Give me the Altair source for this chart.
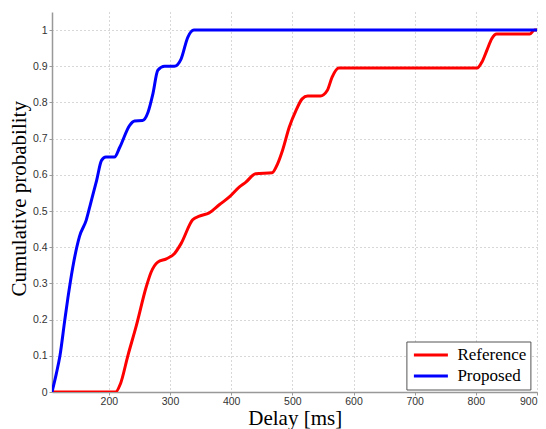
import altair as alt
import pandas as pd

# Reference (red) CDF points
ref_ms = [107, 211, 219, 231, 245, 261, 269, 280, 294, 307, 318, 337, 348, 364, 381,
          397, 413, 424, 440, 467, 476, 484, 495, 506, 516, 525, 546, 557, 565, 576,
          802, 810, 818, 826, 834, 888, 896, 900]
ref_p = [0, 0, 0.023, 0.10, 0.184, 0.29, 0.331, 0.359, 0.368, 0.382, 0.41, 0.476, 0.486,
         0.495, 0.518, 0.539, 0.566, 0.58, 0.603, 0.606, 0.631, 0.668, 0.732, 0.778, 0.81,
         0.818, 0.818, 0.833, 0.87, 0.895, 0.895, 0.912, 0.944, 0.976, 0.989, 0.989, 1.0, 1.0]

# Proposed (blue) CDF points
prop_ms = [107, 114, 120, 128, 133, 141, 152, 163, 170, 180, 188, 195, 209, 218, 234,
           242, 255, 264, 272, 280, 291, 307, 318, 329, 339, 900]
prop_p = [0, 0.05, 0.10, 0.20, 0.26, 0.345, 0.43, 0.475, 0.52, 0.585, 0.64, 0.649, 0.649,
          0.677, 0.737, 0.749, 0.75, 0.773, 0.824, 0.889, 0.9, 0.9, 0.92, 0.98, 1.0, 1.0]

series_names = ["Reference", "Proposed"]
series_colors = ["#ff0000", "#0000ff"]

x_ticks = [200, 300, 400, 500, 600, 700, 800, 900]
y_ticks = [0, 0.1, 0.2, 0.3, 0.4, 0.5, 0.6, 0.7, 0.8, 0.9, 1]

df = pd.concat([
    pd.DataFrame({"delay": ref_ms, "prob": ref_p, "series": "Reference"}),
    pd.DataFrame({"delay": prop_ms, "prob": prop_p, "series": "Proposed"}),
], ignore_index=True)

axis_common = dict(
    domainColor="#999999", domainWidth=1.5,
    tickColor="#999999", tickSize=3, tickWidth=1,
    gridColor="#b0b0b0", gridDash=[1, 3], gridWidth=1,
    labelFont="Liberation Sans", labelFontSize=10.5, labelColor="#333333",
    titleFont="Liberation Serif", titleFontSize=21, titleFontWeight="normal",
    titleColor="black",
)

chart = alt.Chart(df).mark_line(strokeWidth=3, interpolate="monotone", clip=True).encode(
    x=alt.X("delay:Q",
            scale=alt.Scale(domain=[107, 900], nice=False, zero=False),
            axis=alt.Axis(values=x_ticks, title="Delay [ms]", labelPadding=1,
                          titleX=242.7, titleY=32, titleAlign="center",
                          titleBaseline="alphabetic", **axis_common)),
    y=alt.Y("prob:Q",
            scale=alt.Scale(domain=[0, 1.05], nice=False),
            axis=alt.Axis(values=y_ticks, format="~g", title="Cumulative probability",
                          labelPadding=2, titleAngle=270, titleX=-27, titleY=186.3,
                          titleAlign="center", titleBaseline="alphabetic",
                          **axis_common)),
    color=alt.Color("series:N",
                    scale=alt.Scale(domain=series_names, range=series_colors),
                    legend=alt.Legend(title=None, orient="none", legendX=354.4, legendY=329.5,
                                      strokeColor="#555555", fillColor="white", padding=4,
                                      symbolType="stroke", symbolSize=1156, symbolOffset=2,
                                      symbolStrokeWidth=3, labelFont="Liberation Serif",
                                      labelFontSize=17, labelColor="black", labelOffset=8,
                                      rowPadding=2, clipHeight=19)),
).properties(
    width=485, height=380,
    autosize=alt.AutoSizeParams(type="none"),
    padding={"left": 44, "top": 4, "right": 1, "bottom": 40},
).configure_view(strokeWidth=0)

chart.save("out.html", embed_options={"renderer": "svg", "actions": False})
